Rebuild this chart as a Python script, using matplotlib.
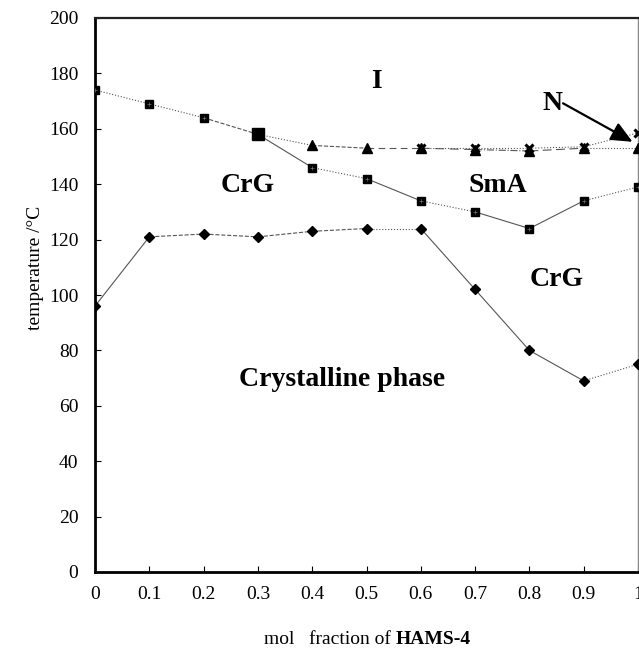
import matplotlib
matplotlib.use("Agg")
import matplotlib.pyplot as plt

plt.rcParams["font.family"] = ["Liberation Serif", "DejaVu Serif"]

# Phase transition temperatures (°C) versus mole fraction of HAMS-4
x_frac = [0.0, 0.1, 0.2, 0.3, 0.4, 0.5, 0.6, 0.7, 0.8, 0.9, 1.0]
t_upper = [174, 169, 164, 158, 146, 142, 134, 130, 124, 134, 139]   # squares
t_melt = [96, 121, 122, 121, 123, 124, 124, 102, 80, 69, 75]        # diamonds

x_clear = [0.3, 0.4, 0.5, 0.6, 0.7, 0.8, 0.9, 1.0]
t_clear = [158, 154, 153, 153, 152.5, 152, 153, 153]                # triangles

x_ni = [0.6, 0.7, 0.8, 0.9, 1.0]
t_ni = [153, 153, 153, 153.5, 158.5]                                  # crosses

x_ticks = [0, 0.1, 0.2, 0.3, 0.4, 0.5, 0.6, 0.7, 0.8, 0.9, 1]
x_tick_labels = ["0", "0.1", "0.2", "0.3", "0.4", "0.5", "0.6", "0.7", "0.8", "0.9", "1"]
y_ticks = [0, 20, 40, 60, 80, 100, 120, 140, 160, 180, 200]

# per-segment line styles of each boundary
sty_upper = [":", ":", "--", "-", ":", "-", ":", "-", "-", ":"]
sty_melt = ["-", "--", "--", "--", "--", ":", "-", "-", "-", ":"]
sty_clear = [":", "--", (0, (6, 4)), (0, (8, 5)), "-.", (0, (8, 4)), ":"]
sty_ni = [":", ":", ":", ":"]

line_color = "#555555"

fig = plt.figure(figsize=(6.39, 6.5), dpi=100)
ax = fig.add_axes([95 / 639, 78 / 650, 543 / 639, 554 / 650])


def draw_boundary(xs, ys, styles, lw=0.8):
    for i in range(len(xs) - 1):
        ax.plot(xs[i:i + 2], ys[i:i + 2], color=line_color, lw=lw,
                ls=styles[i], zorder=2)


draw_boundary(x_frac, t_upper, sty_upper)
draw_boundary(x_frac, t_melt, sty_melt)
draw_boundary(x_clear, t_clear, sty_clear)
draw_boundary(x_ni, t_ni, sty_ni)

# markers
ax.plot(x_frac, t_upper, ls="none", marker="s", ms=6.2, mfc="black",
        mec="black", zorder=3)
ax.plot(x_frac, t_upper, ls="none", marker="+", ms=2.5, mew=0.5,
        color="#707070", zorder=4)
ax.plot([x_frac[3]], [t_upper[3]], ls="none", marker="s", ms=8, color="black",
        zorder=5)
ax.plot(x_clear[1:], t_clear[1:], ls="none", marker="^", ms=6.5,
        color="black", zorder=3)
ax.plot(x_ni, t_ni, ls="none", marker="x", ms=6, mew=2.2, color="black",
        zorder=4)
ax.plot(x_frac, t_melt, ls="none", marker="D", ms=5.5, color="black", zorder=3)

# phase labels
lab = dict(fontsize=20, fontweight="bold", ha="center", va="center",
           color="black", zorder=6)
ax.text(0.519, 177, "I", **lab)
ax.text(0.282, 139.5, "CrG", **lab)
ax.text(0.742, 139.5, "SmA", **lab)
ax.text(0.851, 105.5, "CrG", **lab)
ax.text(0.455, 69.5, "Crystalline phase", **lab)
ax.text(0.843, 169, "N", **lab)
ax.annotate("", xy=(0.99, 155.3), xytext=(0.862, 169.2),
            arrowprops=dict(arrowstyle="-|>,head_length=1.0,head_width=0.45",
                            color="black", lw=1.6, mutation_scale=13,
                            shrinkA=0, shrinkB=0),
            zorder=6)

ax.set_xlim(0, 1)
ax.set_ylim(0, 200)
ax.set_xticks(x_ticks)
ax.set_xticklabels(x_tick_labels)
ax.set_yticks(y_ticks)
ax.tick_params(axis="both", direction="in", length=4, width=0.8,
               labelsize=14)
ax.tick_params(axis="x", pad=10)
ax.tick_params(axis="y", pad=12)

for side in ("left", "bottom"):
    ax.spines[side].set_linewidth(2.0)
    ax.spines[side].set_color("black")
ax.spines["top"].set_linewidth(1.6)
ax.spines["top"].set_color("#222222")
ax.spines["right"].set_linewidth(1.0)
ax.spines["right"].set_color("#888888")

# axis titles
xl = fig.text(0.0, 10 / 650, "mol   fraction of ", fontsize=14, ha="left",
              va="center")
fig.canvas.draw()
bb1 = xl.get_window_extent()
xl2 = fig.text(0, 0, "HAMS-4", fontsize=14, fontweight="bold", ha="left",
               va="center")
bb2 = xl2.get_window_extent()
total = bb1.width + bb2.width
x0 = 367 - total / 2
xl.set_position((x0 / 639, 10 / 650))
xl2.set_position(((x0 + bb1.width) / 639, 10 / 650))

fig.text(36 / 639, 1 - 268 / 650, "temperature /°C", fontsize=14,
         rotation=90, ha="center", va="center")

fig.savefig("out.png", dpi=100)
